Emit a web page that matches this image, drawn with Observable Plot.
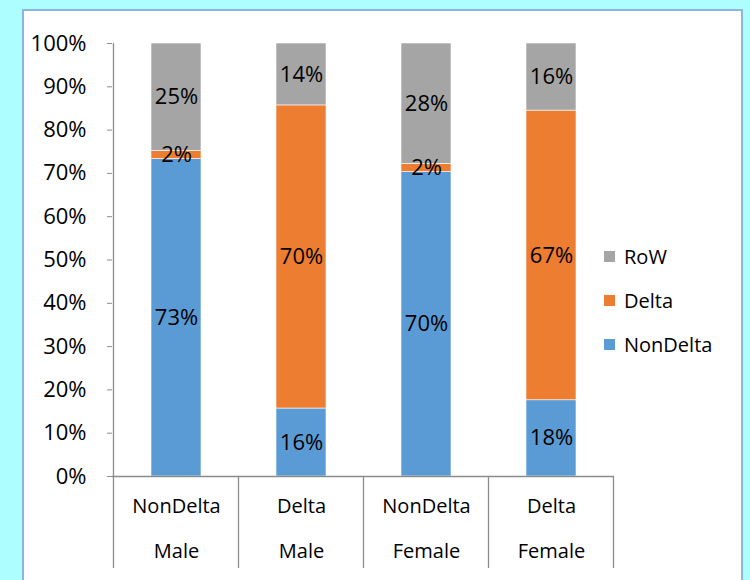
<!DOCTYPE html>
<html><head><meta charset="utf-8">
<script src="https://cdn.jsdelivr.net/npm/d3@7"></script>
<script src="https://cdn.jsdelivr.net/npm/@observablehq/plot@0.6"></script>
<style>
html,body{margin:0;padding:0}
body{background:#ADFFFF;width:750px;height:580px;overflow:hidden;position:relative;font-family:"Open Sans",sans-serif}
#panel{position:absolute;left:22px;top:9px;width:721px;height:590px;background:#fff;border:2px solid #8DB4E2;box-sizing:border-box}
#chart{position:absolute;left:0;top:0}
#legend{position:absolute;left:604px;top:234px;font-size:20px;color:#000}
.row{display:flex;align-items:center;height:44px}
.sw{width:11px;height:11px;margin-right:9px}
</style></head>
<body>
<div id="panel"></div>
<div id="chart"></div>
<div id="legend"></div>
<script>
const categories = ["NonDelta Male", "Delta Male", "NonDelta Female", "Delta Female"];
const typeLabels = ["NonDelta", "Delta", "NonDelta", "Delta"];
const sexLabels = ["Male", "Male", "Female", "Female"];
const series = ["NonDelta", "Delta", "RoW"];
const nonDeltaValues = [73.3, 15.7, 70.3, 17.6];
const deltaValues = [1.9, 70.0, 1.9, 66.9];
const rowValues = [24.8, 14.3, 27.8, 15.5];
const seriesColors = ["#5B9BD5", "#ED7D31", "#A5A5A5"];
const yTicks = [0, 10, 20, 30, 40, 50, 60, 70, 80, 90, 100];
const legendOrder = ["RoW", "Delta", "NonDelta"];

const valuesBySeries = [nonDeltaValues, deltaValues, rowValues];
const table = [];
series.forEach((s, si) => categories.forEach((c, ci) => table.push({category: c, series: s, value: valuesBySeries[si][ci]})));
const catInfo = categories.map((c, i) => ({category: c, type: typeLabels[i], sex: sexLabels[i]}));

const axisColor = "#8C8C8C";

function dividers(index, scales, values, dimensions) {
  const x = scales.x, y = scales.y;
  const bw = typeof x.bandwidth === "function" ? x.bandwidth() : x.bandwidth;
  const step = x(categories[1]) - x(categories[0]);
  const off = (step - bw) / 2;
  const edges = categories.map(c => x(c) - off);
  edges.push(x(categories[categories.length - 1]) + bw + off);
  const bottom = dimensions.height - 12;
  const g = d3.create("svg:g").attr("stroke", axisColor).attr("stroke-width", 1.3);
  edges.forEach((e, i) => {
    g.append("line").attr("x1", e).attr("x2", e)
      .attr("y1", i === 0 ? y(100) : y(0)).attr("y2", bottom);
  });
  return g.node();
}

const chart = Plot.plot({
  width: 750,
  height: 580,
  marginLeft: 112,
  marginRight: 136,
  marginTop: 43,
  marginBottom: 104,
  style: {background: "transparent", fontFamily: "'Open Sans', sans-serif", color: "#000"},
  x: {domain: categories, paddingInner: 0.6, paddingOuter: 0.3, axis: null},
  y: {domain: [0, 100], axis: null},
  color: {domain: series, range: seriesColors},
  marks: [
    Plot.barY(table, Plot.stackY({x: "category", y: "value", z: "series", fill: "series", stroke: "#fff", strokeWidth: 0.6})),
    Plot.text(table, Plot.stackY({x: "category", y: "value", z: "series", text: d => Math.round(d.value) + "%", fontSize: 22, fill: "#000"})),
    Plot.axisY({ticks: yTicks, tickFormat: d => d + "%", tickSize: 5, tickPadding: 21, fontSize: 22, stroke: axisColor, fill: "#000", label: null}),
    Plot.ruleY([0], {stroke: axisColor, strokeWidth: 1.3}),
    dividers,
    Plot.text(catInfo, {x: "category", text: "type", frameAnchor: "bottom", dy: 36, fontSize: 20, fill: "#000"}),
    Plot.text(catInfo, {x: "category", text: "sex", frameAnchor: "bottom", dy: 81, fontSize: 20, fill: "#000"})
  ]
});
document.getElementById("chart").appendChild(chart);

const legend = document.getElementById("legend");
legendOrder.forEach(s => {
  const row = document.createElement("div");
  row.className = "row";
  const sw = document.createElement("div");
  sw.className = "sw";
  sw.style.background = seriesColors[series.indexOf(s)];
  const t = document.createElement("span");
  t.textContent = s;
  row.appendChild(sw); row.appendChild(t);
  legend.appendChild(row);
});
</script>
</body></html>
